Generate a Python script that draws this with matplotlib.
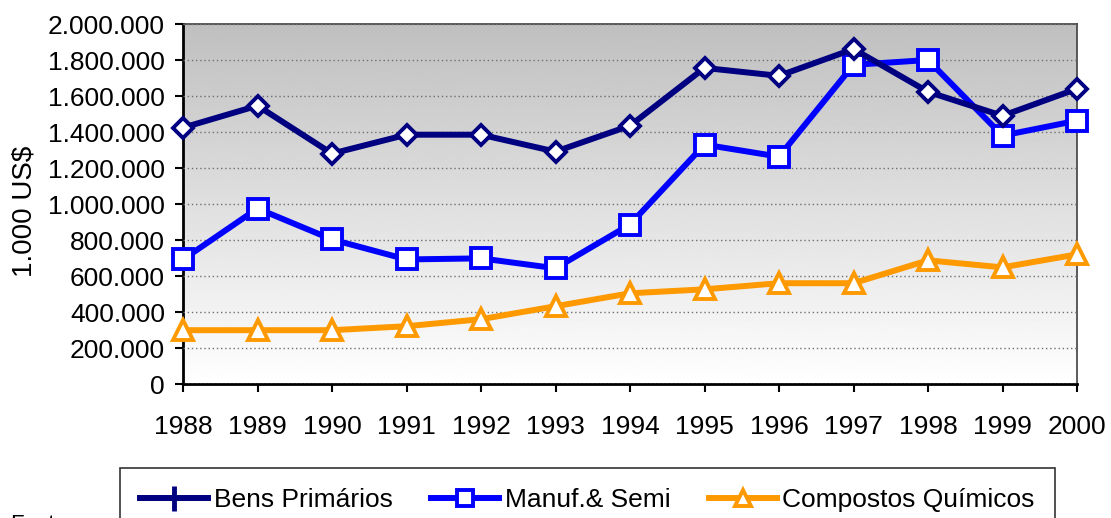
import matplotlib.pyplot as plt
import numpy as np
from matplotlib.lines import Line2D
from matplotlib.ticker import FuncFormatter

# values in 1.000 US$
anos = [1988, 1989, 1990, 1991, 1992, 1993, 1994, 1995, 1996, 1997, 1998, 1999, 2000]
bens_primarios = [1424000, 1546000, 1280000, 1385000, 1385000, 1291000, 1435000,
                  1756000, 1712000, 1861000, 1623000, 1490000, 1640000]
manuf_semi = [692000, 975000, 803000, 692000, 698000, 643000, 886000,
              1330000, 1263000, 1773000, 1800000, 1380000, 1463000]
compostos = [299000, 299000, 299000, 321000, 360000, 432000, 504000,
             526000, 560000, 560000, 687000, 648000, 720000]

plt.rcParams['font.family'] = ['Liberation Sans', 'DejaVu Sans']

W, H = 1111, 518
fig = plt.figure(figsize=(W/100, H/100), dpi=100)
ax = fig.add_axes([183/W, 1-384/H, (1077-183)/W, (384-24)/H])

# gray to white gradient background
grad = np.linspace(0.75, 1.0, 256).reshape(-1, 1)
ax.imshow(grad, cmap='gray', vmin=0, vmax=1, aspect='auto',
          extent=[0, 1, 0, 1], transform=ax.transAxes, zorder=0)

ax.plot(anos, bens_primarios, color='#000080', lw=4.3, marker='D', ms=10,
        mfc='white', mec='#000080', mew=2.8, zorder=5, clip_on=False)
ax.plot(anos, manuf_semi, color='#0000ff', lw=4.3, marker='s', ms=14,
        mfc='white', mec='#0000ff', mew=2.8, zorder=4, clip_on=False)
ax.plot(anos, compostos, color='#ff9900', lw=4.3, marker='^', ms=15,
        mfc='white', mec='#ff9900', mew=2.8, zorder=3, clip_on=False)

ax.set_xlim(1988, 2000)
ax.set_ylim(0, 2000000)
ax.set_xticks(anos)
ax.set_yticks(range(0, 2000001, 200000))
ax.yaxis.set_major_formatter(FuncFormatter(lambda v, p: f"{int(v):,}".replace(",", ".")))
ax.grid(axis='y', color='#707070', ls=(0, (1, 2)), lw=1)
ax.set_axisbelow(False)
ax.tick_params(axis='both', labelsize=19, direction='out', length=6, width=1.5, color='black')
ax.tick_params(axis='x', pad=16)
ax.tick_params(axis='y', pad=7)
for s in ['left', 'bottom']:
    ax.spines[s].set_linewidth(2)
    ax.spines[s].set_color('black')
for s in ['top', 'right']:
    ax.spines[s].set_linewidth(1.2)
    ax.spines[s].set_color('#404040')

fig.text(25/W, 1-211/H, '1.000 US$', rotation=90, fontsize=20,
         ha='center', va='center')

handles = [
    Line2D([], [], color='#000080', lw=4.3, marker='|', ms=18, mew=3.5),
    Line2D([], [], color='#0000ff', lw=4.3, marker='s', ms=12, mfc='white', mew=2.8),
    Line2D([], [], color='#ff9900', lw=4.3, marker='^', ms=12, mfc='white', mew=2.8),
]
leg = fig.legend(handles, ['Bens Primários', 'Manuf.& Semi', 'Compostos Químicos'],
                 loc='upper left', bbox_to_anchor=(120/W, 1-468/H), ncol=3,
                 fontsize=19, frameon=True, fancybox=False, edgecolor='black',
                 handlelength=2.6, handletextpad=0.2, columnspacing=1.45,
                 borderpad=0.75, borderaxespad=0)
leg.get_frame().set_linewidth(1.2)

fig.text(10/W, 1-514/H, 'Fonte:', fontsize=16, ha='left', va='top')

fig.savefig('out.png', dpi=100)
